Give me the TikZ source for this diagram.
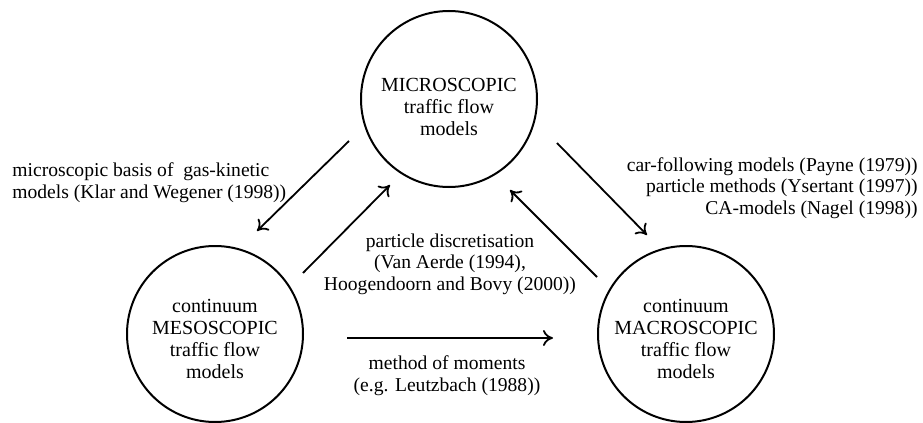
\documentclass[tikz,border=0pt]{standalone}
\usepackage{fontspec}
\setmainfont{Liberation Serif}
\usepackage{tikz}
\usetikzlibrary{arrows.meta}

% text of a circle, set a little below its centre
\newcommand{\lowered}[2]{\raisebox{-#1}[\height][\depth]{\begin{tabular}{@{}c@{}}#2\end{tabular}}}

\tikzset{
  model/.style={draw, circle, line width=1pt, minimum size=88pt, inner sep=0pt,
    align=center, font=\fontsize{10}{11}\selectfont},
  note/.style={font=\fontsize{9.8}{10.8}\selectfont, inner sep=0pt},
  link/.style={line width=0.9pt, -{To[length=5pt,width=8pt]}}
}

\begin{document}
\begin{tikzpicture}[x=0.5pt, y=-0.5pt]
            \useasboundingbox (0,0) rectangle (923,423);

            % Draw the three model classes
            \node[model] (micro) at (449,99) {\lowered{5pt}{MICROSCOPIC\\traffic flow\\models}};
            \node[model] (meso) at (215,334) {\lowered{3.5pt}{continuum\\MESOSCOPIC\\traffic flow\\models}};
            \node[model] (macro) at (686,334) {\lowered{3.5pt}{continuum\\MACROSCOPIC\\traffic flow\\models}};

            % Arrow end points
            \coordinate (mi1) at (349,141);
            \coordinate (me1) at (257,231);
            \coordinate (me2) at (303,273);
            \coordinate (mi2) at (390,185);
            \coordinate (mi3) at (557,143);
            \coordinate (ma1) at (647,235);
            \coordinate (ma2) at (597,277);
            \coordinate (mi4) at (510,190);
            \coordinate (me3) at (347,338);
            \coordinate (ma3) at (553,338);

            % Draw the arrows
            \draw[link] (mi1) -- (me1);
            \draw[link] (me2) -- (mi2);
            \draw[link] (mi3) -- (ma1);
            \draw[link] (ma2) -- (mi4);
            \draw[link] (me3) -- (ma3);

            % Label the arrows
            \node[note, align=left, anchor=west] (basis) at (12,183)
              {microscopic basis of\ \ gas-kinetic\\models (Klar and Wegener (1998))};
            \node[note, align=center] (discr) at (450,264)
              {particle discretisation\\(Van Aerde (1994),\\Hoogendoorn and Bovy (2000))};
            \node[note, align=center] (moments) at (447,376)
              {method of moments\\(e.g. Leutzbach (1988))};
            \node[note, align=right, anchor=east] (carfol) at (918,188)
              {car-following models (Payne (1979))\\particle methods (Ysertant (1997))\\CA-models (Nagel (1998))};
        \end{tikzpicture}
\end{document}
